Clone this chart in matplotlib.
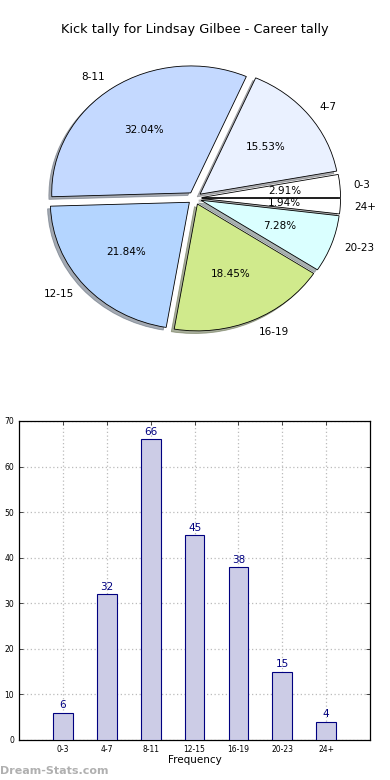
import matplotlib
matplotlib.use('Agg')
import matplotlib.pyplot as plt

# ---------- data ----------
bins = ['0-3', '4-7', '8-11', '12-15', '16-19', '20-23', '24+']
kicks = [6, 32, 66, 45, 38, 15, 4]
slice_colors = ['#ffffff', '#eaf1ff', '#c4d9ff', '#b4d5ff', '#d0ea8c', '#daffff', '#ffffff']
title = 'Kick tally for Lindsay Gilbee - Career tally'
yticks = [0, 10, 20, 30, 40, 50, 60, 70]

fig = plt.figure(figsize=(3.9, 7.8), dpi=100)

# ---------- pie ----------
ax1 = fig.add_axes([0.107, 0.567, 0.784, 0.358])
wedges, texts, autotexts = ax1.pie(
    kicks, labels=bins, colors=slice_colors, explode=[0.05] * len(kicks),
    autopct='%1.2f%%', startangle=0, counterclock=True,
    shadow={'ox': -0.015, 'oy': -0.015, 'shade': 0.6},
    labeldistance=1.1, pctdistance=0.6,
    wedgeprops={'edgecolor': 'black', 'linewidth': 0.6},
    textprops={'fontsize': 7.5})
ax1.set_aspect('auto')
ax1.set_xlim(-1.1, 1.1)
ax1.set_ylim(-1.1, 1.1)
fig.text(0.5, 1 - 30 / 780, title, ha='center', va='center', fontsize=9.3)

# ---------- bars ----------
ax2 = fig.add_axes([0.049, 0.0513, 0.9, 0.409])
x = list(range(len(bins)))
bars = ax2.bar(x, kicks, width=0.45, color='#ccccE6', edgecolor='#000080', linewidth=0.8, zorder=3)
for xi, v in zip(x, kicks):
    ax2.text(xi, v + 0.5, str(v), ha='center', va='bottom', color='#000080', fontsize=7.5)
ax2.set_xlim(-1, 7)
ax2.set_ylim(0, 70)
ax2.set_xticks(x)
ax2.set_xticklabels(bins)
ax2.set_yticks(yticks)
ax2.tick_params(axis='both', direction='in', labelsize=5.5, top=True, right=True, length=3, width=0.5)
ax2.grid(True, linestyle=(0, (1, 2)), color='#bbbbbb', linewidth=0.9, zorder=0)
ax2.set_xlabel('Frequency', fontsize=7.5, labelpad=1)
for s in ax2.spines.values():
    s.set_linewidth(0.9)

fig.text(0.0, 1 - 771 / 780, 'Dream-Stats.com', ha='left', va='center',
         fontsize=8, fontweight='bold', color='#b0b0b0')

fig.savefig('out.png', dpi=100)
